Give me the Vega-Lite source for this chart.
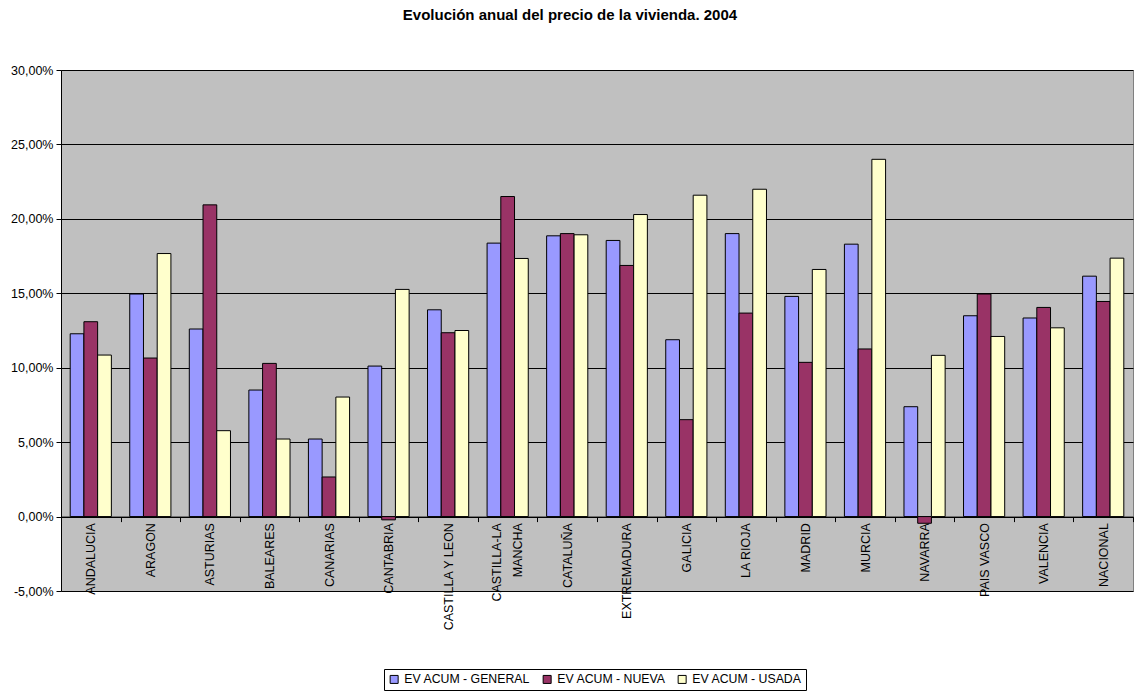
{
  "$schema": "https://vega.github.io/schema/vega-lite/v6.json",
  "width": 1072,
  "height": 521,
  "autosize": {"type": "none"},
  "padding": {"left": 61, "top": 70, "right": 1, "bottom": 100},
  "background": "white",
  "title": {
    "text": "Evolución anual del precio de la vivienda. 2004",
    "font": "Liberation Sans",
    "fontSize": 15,
    "fontWeight": "bold",
    "color": "black",
    "anchor": "middle",
    "frame": "group",
    "baseline": "alphabetic",
    "offset": 29,
    "dx": -27
  },
  "config": {
    "font": "Liberation Sans",
    "view": {"fill": "#C0C0C0", "stroke": "#808080", "strokeWidth": 1}
  },
  "data": {
    "values": [
      {"region": "ANDALUCIA", "serie": "EV ACUM - GENERAL", "valor": 0.1228},
      {"region": "ANDALUCIA", "serie": "EV ACUM - NUEVA", "valor": 0.1309},
      {"region": "ANDALUCIA", "serie": "EV ACUM - USADA", "valor": 0.1085},
      {"region": "ARAGON", "serie": "EV ACUM - GENERAL", "valor": 0.1495},
      {"region": "ARAGON", "serie": "EV ACUM - NUEVA", "valor": 0.1065},
      {"region": "ARAGON", "serie": "EV ACUM - USADA", "valor": 0.1767},
      {"region": "ASTURIAS", "serie": "EV ACUM - GENERAL", "valor": 0.1260},
      {"region": "ASTURIAS", "serie": "EV ACUM - NUEVA", "valor": 0.2094},
      {"region": "ASTURIAS", "serie": "EV ACUM - USADA", "valor": 0.0577},
      {"region": "BALEARES", "serie": "EV ACUM - GENERAL", "valor": 0.0850},
      {"region": "BALEARES", "serie": "EV ACUM - NUEVA", "valor": 0.1029},
      {"region": "BALEARES", "serie": "EV ACUM - USADA", "valor": 0.0521},
      {"region": "CANARIAS", "serie": "EV ACUM - GENERAL", "valor": 0.0521},
      {"region": "CANARIAS", "serie": "EV ACUM - NUEVA", "valor": 0.0266},
      {"region": "CANARIAS", "serie": "EV ACUM - USADA", "valor": 0.0803},
      {"region": "CANTABRIA", "serie": "EV ACUM - GENERAL", "valor": 0.1011},
      {"region": "CANTABRIA", "serie": "EV ACUM - NUEVA", "valor": -0.0022},
      {"region": "CANTABRIA", "serie": "EV ACUM - USADA", "valor": 0.1526},
      {"region": "CASTILLA Y LEON", "serie": "EV ACUM - GENERAL", "valor": 0.1389},
      {"region": "CASTILLA Y LEON", "serie": "EV ACUM - NUEVA", "valor": 0.1235},
      {"region": "CASTILLA Y LEON", "serie": "EV ACUM - USADA", "valor": 0.1250},
      {"region": "CASTILLA-LA|MANCHA", "serie": "EV ACUM - GENERAL", "valor": 0.1837},
      {"region": "CASTILLA-LA|MANCHA", "serie": "EV ACUM - NUEVA", "valor": 0.2150},
      {"region": "CASTILLA-LA|MANCHA", "serie": "EV ACUM - USADA", "valor": 0.1734},
      {"region": "CATALUÑA", "serie": "EV ACUM - GENERAL", "valor": 0.1886},
      {"region": "CATALUÑA", "serie": "EV ACUM - NUEVA", "valor": 0.1901},
      {"region": "CATALUÑA", "serie": "EV ACUM - USADA", "valor": 0.1893},
      {"region": "EXTREMADURA", "serie": "EV ACUM - GENERAL", "valor": 0.1855},
      {"region": "EXTREMADURA", "serie": "EV ACUM - NUEVA", "valor": 0.1687},
      {"region": "EXTREMADURA", "serie": "EV ACUM - USADA", "valor": 0.2029},
      {"region": "GALICIA", "serie": "EV ACUM - GENERAL", "valor": 0.1188},
      {"region": "GALICIA", "serie": "EV ACUM - NUEVA", "valor": 0.0651},
      {"region": "GALICIA", "serie": "EV ACUM - USADA", "valor": 0.2159},
      {"region": "LA RIOJA", "serie": "EV ACUM - GENERAL", "valor": 0.1901},
      {"region": "LA RIOJA", "serie": "EV ACUM - NUEVA", "valor": 0.1367},
      {"region": "LA RIOJA", "serie": "EV ACUM - USADA", "valor": 0.2199},
      {"region": "MADRID", "serie": "EV ACUM - GENERAL", "valor": 0.1479},
      {"region": "MADRID", "serie": "EV ACUM - NUEVA", "valor": 0.1036},
      {"region": "MADRID", "serie": "EV ACUM - USADA", "valor": 0.1660},
      {"region": "MURCIA", "serie": "EV ACUM - GENERAL", "valor": 0.1830},
      {"region": "MURCIA", "serie": "EV ACUM - NUEVA", "valor": 0.1126},
      {"region": "MURCIA", "serie": "EV ACUM - USADA", "valor": 0.2400},
      {"region": "NAVARRA", "serie": "EV ACUM - GENERAL", "valor": 0.0738},
      {"region": "NAVARRA", "serie": "EV ACUM - NUEVA", "valor": -0.0045},
      {"region": "NAVARRA", "serie": "EV ACUM - USADA", "valor": 0.1083},
      {"region": "PAIS VASCO", "serie": "EV ACUM - GENERAL", "valor": 0.1349},
      {"region": "PAIS VASCO", "serie": "EV ACUM - NUEVA", "valor": 0.1495},
      {"region": "PAIS VASCO", "serie": "EV ACUM - USADA", "valor": 0.1210},
      {"region": "VALENCIA", "serie": "EV ACUM - GENERAL", "valor": 0.1334},
      {"region": "VALENCIA", "serie": "EV ACUM - NUEVA", "valor": 0.1405},
      {"region": "VALENCIA", "serie": "EV ACUM - USADA", "valor": 0.1268},
      {"region": "NACIONAL", "serie": "EV ACUM - GENERAL", "valor": 0.1615},
      {"region": "NACIONAL", "serie": "EV ACUM - NUEVA", "valor": 0.1445},
      {"region": "NACIONAL", "serie": "EV ACUM - USADA", "valor": 0.1736}
    ]
  },
  "mark": {"type": "bar", "stroke": "black", "strokeWidth": 1, "cornerRadius": 0},
  "encoding": {
    "x": {
      "field": "region",
      "type": "nominal",
      "sort": null,
      "title": null,
      "scale": {"paddingInner": 0, "paddingOuter": 0},
      "axis": {
        "orient": "bottom",
        "offset": -74.4,
        "domainColor": "black",
        "domainWidth": 1,
        "tickBand": "extent",
        "tickColor": "black",
        "tickSize": 5,
        "labelAngle": 270,
        "labelAlign": "right",
        "labelBaseline": "middle",
        "labelPadding": 1,
        "labelFontSize": 12.5,
        "labelColor": "black",
        "labelFont": "Liberation Sans",
        "labelLineHeight": 21,
        "labelOffset": {"condition": {"test": "datum.value == 'CASTILLA-LA|MANCHA'", "value": -11}, "value": 0},
        "labelExpr": "split(datum.label, '|')",
        "grid": false
      }
    },
    "xOffset": {
      "field": "serie",
      "type": "nominal",
      "sort": ["EV ACUM - GENERAL", "EV ACUM - NUEVA", "EV ACUM - USADA"],
      "scale": {"paddingInner": 0, "paddingOuter": 0.67}
    },
    "y": {
      "field": "valor",
      "type": "quantitative",
      "title": null,
      "scale": {"domain": [-0.05, 0.3], "nice": false, "zero": false},
      "axis": {
        "values": [-0.05, 0, 0.05, 0.1, 0.15, 0.2, 0.25, 0.3],
        "labelExpr": "replace(replace(format(datum.value, '.2%'), '.', ','), '\u2212', '-')",
        "labelFontSize": 12.5,
        "labelColor": "black",
        "labelFont": "Liberation Sans",
        "labelPadding": 3,
        "domainColor": "black",
        "tickColor": "black",
        "tickSize": 5,
        "grid": true,
        "gridColor": "black",
        "gridWidth": 1,
        "gridOpacity": 1
      }
    },
    "color": {
      "field": "serie",
      "type": "nominal",
      "sort": ["EV ACUM - GENERAL", "EV ACUM - NUEVA", "EV ACUM - USADA"],
      "scale": {
        "domain": ["EV ACUM - GENERAL", "EV ACUM - NUEVA", "EV ACUM - USADA"],
        "range": ["#9999FF", "#993366", "#FFFFCC"]
      },
      "legend": {
        "orient": "none",
        "legendX": 323,
        "legendY": 599,
        "direction": "horizontal",
        "title": null,
        "strokeColor": "black",
        "fillColor": "white",
        "padding": 4,
        "symbolType": "square",
        "symbolSize": 64,
        "symbolStrokeColor": "black",
        "symbolStrokeWidth": 1,
        "symbolOpacity": 1,
        "labelFontSize": 12.3,
        "labelFont": "Liberation Sans",
        "labelColor": "black",
        "columnPadding": 10,
        "labelOffset": 4
      }
    }
  }
}
